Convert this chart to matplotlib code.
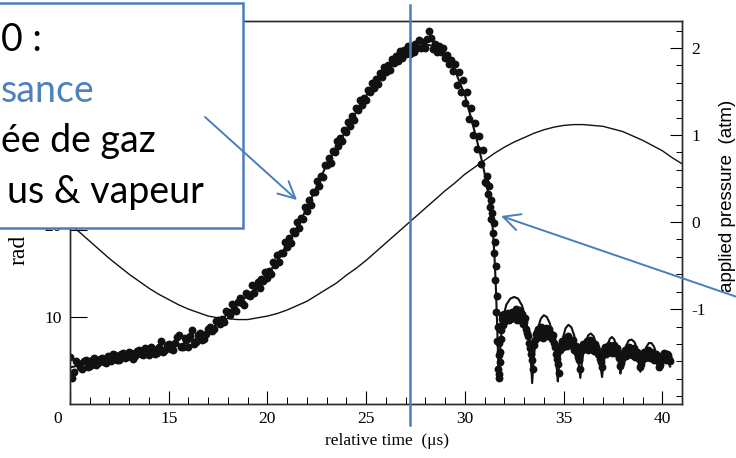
import matplotlib
matplotlib.use('Agg')
import matplotlib.pyplot as plt
from matplotlib.patches import Rectangle, FancyArrowPatch
from matplotlib.lines import Line2D
from matplotlib.ticker import MultipleLocator

early_t = [10.0, 10.1, 10.2, 10.3, 10.4, 10.6, 10.8, 11.0, 11.2, 11.4,
           11.6, 11.8, 12.0, 12.2, 12.4, 12.6, 12.8, 13.0, 13.2, 13.4,
           13.6, 13.8, 14.0, 14.2, 14.4, 14.6, 14.8, 15.0, 15.2, 15.4,
           15.6, 15.8, 16.0, 16.2, 16.4, 16.6, 16.8, 17.0, 17.2, 17.4,
           10.5, 10.7, 10.9, 11.1, 11.3, 11.5, 11.7, 11.9, 12.1, 12.3,
           12.5, 12.7, 12.9, 13.1, 13.3, 13.5, 13.7, 13.9, 14.1, 14.3,
           14.5, 14.7, 14.9, 15.1, 15.3, 15.5, 15.7, 15.9, 16.1, 16.3,
           16.5, 16.7, 16.9, 17.1, 17.3]
early_r = [5.4, 3.0, 3.7, 4.9, 4.7, 4.0, 5.0, 4.4, 5.3, 4.7,
           5.3, 4.7, 5.4, 5.8, 5.0, 5.7, 5.3, 6.0, 5.2, 6.1,
           5.7, 6.4, 5.6, 6.3, 5.9, 7.2, 6.2, 6.9, 6.2, 7.7,
           6.6, 7.6, 6.5, 8.5, 7.1, 8.2, 7.5, 8.6, 8.4, 9.5,
           4.2, 4.9, 4.3, 5.1, 4.5, 5.2, 4.8, 5.5, 4.9, 5.6,
           5.1, 5.9, 5.4, 5.9, 5.5, 6.2, 5.6, 6.0, 6.6, 5.8,
           6.5, 6.0, 6.8, 6.3, 7.0, 7.9, 6.5, 7.3, 7.8, 6.9,
           7.9, 7.3, 8.0, 8.9, 8.6]

rise_t = [17.5, 17.6, 17.7, 17.8, 17.9, 18.0, 18.1, 18.2, 18.3, 18.4,
          18.5, 18.6, 18.7, 18.8, 18.9, 19.0, 19.1, 19.2, 19.3, 19.4,
          19.5, 19.6, 19.7, 19.8, 19.9, 20.0, 20.1, 20.2, 20.3, 20.4,
          20.5, 20.6, 20.7, 20.8, 20.9, 21.0, 21.1, 21.2, 21.3, 21.4,
          21.5, 21.6, 21.7, 21.8, 21.9, 22.0, 22.1, 22.2, 22.3, 22.4,
          22.5, 22.6, 22.7, 22.8, 22.9, 23.0, 23.1, 23.2, 23.3, 23.4,
          23.5, 23.6, 23.7, 23.8, 23.9, 24.0, 24.1, 24.2, 24.3, 24.4,
          24.5, 24.6, 24.7, 24.8, 24.9, 25.0, 25.1, 25.2, 25.3, 25.4,
          25.5, 25.6, 25.7, 25.8, 25.9, 26.0, 26.1, 26.2, 26.3, 26.4,
          26.5, 26.6, 26.7, 26.8, 26.9, 27.0, 27.1, 27.2, 27.3, 27.4,
          27.5, 27.6, 27.7, 27.8, 27.9, 28.0, 28.1, 28.2, 28.3, 28.4,
          28.5, 28.6, 28.7, 28.8, 28.9, 29.0, 29.1, 29.2, 29.3, 29.4,
          29.5, 29.6, 29.7, 29.8, 29.9, 30.0, 30.1, 30.2, 30.3, 30.4,
          30.5, 30.6, 30.7, 30.8, 30.9, 31.0]
rise_r = [9.7, 9.2, 9.8, 9.4, 10.7, 10.6, 10.2, 11.5, 10.9, 10.7,
          11.7, 12.2, 11.6, 11.4, 12.7, 12.5, 12.4, 13.7, 12.7, 13.5,
          14.0, 13.3, 14.4, 14.1, 15.2, 14.5, 15.3, 14.9, 16.3, 16.0,
          17.1, 16.3, 17.4, 17.3, 18.6, 18.0, 19.1, 18.5, 19.9, 19.7,
          20.9, 20.2, 21.4, 21.2, 22.6, 22.2, 23.4, 22.9, 24.3, 24.3,
          25.6, 25.0, 26.2, 26.1, 27.5, 27.4, 28.3, 27.7, 29.1, 28.9,
          30.2, 29.6, 30.6, 30.2, 31.5, 31.3, 32.4, 31.9, 33.1, 32.6,
          34.0, 33.8, 34.9, 34.4, 35.2, 34.9, 36.1, 35.9, 36.9, 36.3,
          37.3, 36.8, 38.0, 37.6, 38.7, 38.1, 38.9, 38.4, 39.6, 39.2,
          40.0, 39.4, 40.5, 39.8, 40.7, 40.2, 41.1, 40.2, 41.1, 40.4,
          41.4, 40.9, 41.8, 40.9, 41.6, 40.9, 41.9, 42.8, 42.1, 40.8,
          41.4, 40.4, 41.1, 40.4, 40.9, 39.8, 40.1, 39.1, 39.5, 38.3,
          39.1, 36.7, 38.1, 35.8, 37.2, 34.6, 35.9, 32.7, 34.0, 30.9,
          32.3, 29.3, 30.8, 27.6, 29.2, 25.5]

collapse_t = [31.05, 31.1, 31.15, 31.2, 31.25, 31.3, 31.35, 31.4, 31.45, 31.48,
              31.5, 31.52, 31.55, 31.57, 31.6, 31.62, 31.65, 31.67, 31.7, 31.72, 31.73]
collapse_r = [25.4, 26.2, 24.1, 25.0, 22.6, 23.4, 21.3, 22.0, 19.6, 20.8,
              17.4, 18.6, 14.2, 15.8, 10.6, 12.4, 7.2, 8.8, 4.0, 5.6, 3.0]

after_t = [31.75, 31.8, 31.85, 31.9, 32.0, 32.1, 32.2, 32.3, 32.4, 32.5,
           32.6, 32.7, 32.8, 32.9, 33.0, 33.1, 33.2, 33.3, 33.4, 33.5,
           33.6, 33.7, 33.8, 33.9, 34.0, 34.1, 34.2, 34.3, 34.4, 34.5,
           34.6, 34.7, 34.8, 34.9, 35.0, 35.1, 35.2, 35.3, 35.4, 35.5,
           35.6, 35.7, 35.8, 35.9, 36.0, 36.1, 36.2, 36.3, 36.4, 36.5,
           36.6, 36.7, 36.8, 36.9, 37.0, 37.1, 37.2, 37.3, 37.4, 37.5,
           37.6, 37.7, 37.8, 37.9, 38.0, 38.1, 38.2, 38.3, 38.4, 38.5,
           38.6, 38.7, 38.8, 38.9, 39.0, 39.1, 39.2, 39.3, 39.4, 39.5,
           39.6, 39.7, 39.8, 39.9, 40.0, 40.1, 40.2, 40.3, 40.4,
           31.74, 31.76, 31.78, 31.82, 31.88, 31.95,
           32.05, 32.15, 32.25, 32.35, 32.45, 32.55, 32.65, 32.75, 32.85, 32.95,
           33.05, 33.15, 33.25, 33.35, 33.45, 33.55, 33.65, 33.75, 33.85, 33.95,
           34.05, 34.15, 34.25, 34.35, 34.45, 34.55, 34.65, 34.75, 34.85, 34.95,
           35.05, 35.15, 35.25, 35.35, 35.45, 35.55, 35.65, 35.75, 35.85, 35.95,
           36.05, 36.15, 36.25, 36.35, 36.45, 36.55, 36.65, 36.75, 36.85, 36.95,
           37.05, 37.15, 37.25, 37.35, 37.45, 37.55, 37.65, 37.75, 37.85, 37.95,
           38.05, 38.15, 38.25, 38.35, 38.45, 38.55, 38.65, 38.75, 38.85, 38.95,
           39.05, 39.15, 39.25, 39.35, 39.45, 39.55, 39.65, 39.75, 39.85, 39.95,
           40.05, 40.15, 40.25, 40.35]
after_r = [3.5, 6.0, 8.5, 9.8, 10.3, 9.6, 10.4, 9.8, 10.6, 10.0,
           10.9, 10.2, 9.7, 10.3, 9.4, 8.6, 7.8, 6.4, 5.0, 6.8,
           8.0, 8.6, 7.9, 8.5, 8.1, 8.7, 7.8, 8.2, 7.5, 7.0,
           5.8, 4.6, 6.2, 7.2, 6.9, 7.6, 7.0, 7.4, 6.8, 7.3,
           6.6, 5.9, 5.0, 6.1, 6.9, 6.5, 7.2, 6.6, 7.0, 6.4,
           6.9, 6.2, 5.6, 4.8, 5.9, 6.5, 6.0, 6.8, 6.2, 6.6,
           5.9, 6.4, 5.3, 4.7, 5.6, 6.2, 5.7, 6.5, 5.9, 6.1,
           5.4, 6.0, 5.2, 4.6, 5.4, 6.0, 5.5, 6.2, 5.3, 5.8,
           5.1, 5.7, 4.9, 4.5, 5.3, 5.9, 5.0, 5.6, 4.9,
           7.0, 9.0, 4.8, 7.5, 10.2, 9.1,
           9.5, 10.2, 9.7, 10.3, 9.9, 10.5, 9.6, 10.8, 9.9, 9.2,
           9.9, 8.2, 7.0, 5.8, 4.0, 7.4, 8.3, 7.7, 8.8, 7.6,
           8.4, 7.9, 8.6, 7.7, 7.9, 6.5, 5.2, 3.6, 6.8, 6.6,
           7.3, 6.7, 7.8, 6.9, 7.1, 6.2, 6.7, 5.4, 4.0, 6.6,
           6.3, 7.0, 6.2, 7.4, 6.7, 6.1, 6.6, 5.8, 5.2, 4.2,
           6.2, 5.8, 6.6, 6.4, 5.9, 6.8, 6.1, 5.7, 4.4, 5.2,
           6.0, 5.5, 6.3, 6.1, 5.6, 6.4, 5.8, 5.5, 4.2, 5.0,
           5.8, 5.3, 5.9, 5.6, 6.0, 5.4, 5.5, 5.2, 4.3, 5.0,
           5.6, 5.3, 5.8, 5.2]

# computed radius curve (solid line)
fit_t = [10.0, 11.0, 12.0, 13.0, 14.0, 15.0, 16.0, 16.5, 17.0, 17.5,
         18.0, 18.5, 19.0, 19.5, 20.0, 20.5, 21.0, 21.5, 22.0, 22.5,
         23.0, 23.5, 24.0, 24.5, 25.0, 25.5, 26.0, 26.5, 27.0, 27.5,
         28.0, 28.5, 29.0, 29.5, 30.0, 30.3, 30.6, 30.9, 31.1, 31.3,
         31.4, 31.5, 31.57, 31.63, 31.68, 31.72,
         31.78, 31.85, 31.95, 32.1, 32.3, 32.5, 32.7, 32.9, 33.1, 33.25,
         33.35, 33.41, 33.47, 33.55, 33.7, 33.85, 34.0, 34.15, 34.3, 34.45,
         34.58, 34.66, 34.71, 34.76, 34.85, 34.98, 35.1, 35.25, 35.4, 35.55,
         35.68, 35.78, 35.85, 35.91, 36.0, 36.12, 36.25, 36.38, 36.52, 36.66,
         36.8, 36.9, 36.95, 37.01, 37.1, 37.22, 37.35, 37.45, 37.57, 37.68,
         37.78, 37.84, 37.88, 37.94, 38.03, 38.15, 38.3, 38.45, 38.6, 38.72,
         38.82, 38.89, 38.95, 39.05, 39.18, 39.32, 39.45, 39.58, 39.7, 39.8,
         39.9, 39.97, 40.1, 40.25, 40.4]
fit_r = [4.2, 4.7, 5.2, 5.6, 6.0, 6.5, 7.1, 7.6, 8.3, 9.3,
         10.4, 11.4, 12.5, 13.5, 14.9, 16.4, 18.4, 20.3, 22.5, 25.0,
         27.5, 29.6, 31.5, 33.6, 35.4, 37.0, 38.4, 39.6, 40.4, 41.0,
         41.3, 41.1, 40.2, 38.3, 35.5, 33.0, 30.4, 27.6, 25.4, 22.4,
         20.6, 17.0, 13.5, 9.5, 5.8, 2.8,
         6.0, 8.2, 10.0, 11.4, 12.1, 12.3, 12.1, 11.3, 9.7, 7.4,
         4.8, 2.4, 4.6, 6.6, 8.7, 9.8, 10.2, 10.0, 9.3, 7.9,
         5.9, 4.0, 2.6, 4.2, 6.0, 7.7, 8.7, 9.1, 8.8, 7.8,
         6.1, 4.3, 3.0, 4.4, 5.8, 7.1, 7.9, 8.1, 7.8, 6.9,
         5.4, 3.9, 3.1, 4.3, 5.6, 6.8, 7.5, 7.7, 7.4, 6.6,
         5.3, 4.3, 3.5, 4.5, 5.6, 6.6, 7.3, 7.4, 7.1, 6.3,
         5.0, 3.7, 4.6, 5.6, 6.5, 7.0, 7.0, 6.6, 5.8, 4.8,
         3.9, 4.6, 5.2, 5.0, 4.3]

# applied acoustic pressure (atm), right axis
drive_t = [10.0, 10.5, 11.0, 11.5, 12.0, 12.5, 13.0, 13.5, 14.0, 14.5,
           15.0, 15.5, 16.0, 16.5, 17.0, 17.5, 18.0, 18.5, 19.0, 19.5,
           20.0, 20.5, 21.0, 21.5, 22.0, 22.5, 23.0, 23.5, 24.0, 24.5,
           25.0, 25.5, 26.0, 26.5, 27.0, 27.5, 28.0, 28.5, 29.0, 29.5,
           30.0, 30.5, 31.0, 31.5, 32.0, 32.5, 33.0, 33.5, 34.0, 34.5,
           35.0, 35.5, 36.0, 36.5, 37.0, 37.5, 38.0, 38.5, 39.0, 39.5,
           40.0, 40.5, 41.0]
drive_p = [-0.02, -0.12, -0.22, -0.32, -0.42, -0.51, -0.60, -0.68, -0.76, -0.83,
           -0.89, -0.95, -1.00, -1.04, -1.08, -1.10, -1.11, -1.12, -1.12, -1.10,
           -1.08, -1.05, -1.01, -0.96, -0.91, -0.84, -0.77, -0.70, -0.61, -0.53,
           -0.44, -0.34, -0.24, -0.14, -0.04, 0.06, 0.16, 0.26, 0.36, 0.45,
           0.55, 0.63, 0.71, 0.79, 0.86, 0.92, 0.97, 1.02, 1.06, 1.09,
           1.11, 1.12, 1.12, 1.11, 1.10, 1.07, 1.04, 0.99, 0.94, 0.88,
           0.82, 0.74, 0.67]

x_ticks = [10, 15, 20, 25, 30, 35, 40]
x_labels = ['', '15', '20', '25', '30', '35', '40']
r_ticks = [10, 20, 30, 40]
p_ticks = [-1, 0, 1, 2]
p_labels = ['-1', '0', '1', '2']

box_lines = ['0 :', 'sance', 'ée de gaz', 'us & vapeur']
box_colors = ['black', '#4f81bd', 'black', 'black']

serif = 'Liberation Serif'
blue = '#4a7ebb'
ink = '#111111'

W, H = 736, 458
def fx(px):
    return px / W
def fy(py):
    return 1 - py / H

fig = plt.figure(figsize=(W / 100, H / 100), dpi=100)
ax = fig.add_axes([fx(70), fy(404), (682 - 70) / W, (404 - 21) / H])

for tt, rr in [(early_t, early_r), (rise_t, rise_r), (collapse_t, collapse_r), (after_t, after_r)]:
    ax.scatter(tt, rr, s=32, c=ink, linewidths=0, zorder=2)
ax.plot(fit_t, fit_r, color=ink, lw=1.5, zorder=3)

ax.set_xlim(10, 41)
ax.set_ylim(0, 44)
ax.set_xticks(x_ticks)
ax.set_xticklabels(x_labels, fontfamily=serif, fontsize=12.5)
ax.xaxis.set_minor_locator(MultipleLocator(1))
ax.set_yticks(r_ticks)
ax.set_yticklabels(['10', '', '', ''], fontfamily=serif, fontsize=12.5)
ax.tick_params(axis='x', which='major', direction='in', length=9.5, width=0.8, pad=5, top=False)
ax.tick_params(axis='x', which='minor', direction='in', length=5, width=0.7, top=False)
ax.tick_params(axis='y', which='major', direction='in', length=12, width=0.8, pad=6, right=False)
ax.annotate('0', xy=(10, 0), xycoords=('data', 'axes fraction'), xytext=(-9, -5),
            textcoords='offset points', ha='center', va='top', fontfamily=serif, fontsize=12.5)
# the "20" label sits mostly under the text box on the slide
ax.annotate('20', xy=(10, 20), xycoords='data', xytext=(-6, 2),
            textcoords='offset points', ha='right', va='center', fontfamily=serif, fontsize=12.5)
for s in ax.spines.values():
    s.set_color('#2a2a2a')
    s.set_linewidth(1.0)

ax2 = ax.twinx()
ax2.plot(drive_t, drive_p, color=ink, lw=1.0)
ax2.set_ylim(-2.09, 2.31)
ax2.set_yticks(p_ticks)
ax2.set_yticklabels(p_labels, fontfamily=serif, fontsize=12.5)
ax2.yaxis.set_minor_locator(MultipleLocator(0.2))
ax2.tick_params(axis='y', which='major', direction='in', length=9, width=0.8, pad=7)
ax2.tick_params(axis='y', which='minor', direction='in', length=4.5, width=0.7)
for s in ax2.spines.values():
    s.set_color('#2a2a2a')
    s.set_linewidth(1.0)

fig.text(fx(387), fy(441), 'relative time  (\u03bcs)', ha='center', va='center',
         fontfamily=serif, fontsize=12.5)
fig.text(fx(727), fy(196), 'applied pressure  (atm)', rotation=90, ha='center', va='center',
         fontfamily='Liberation Sans', fontsize=13.5)
fig.text(fx(19), fy(265), 'rad', rotation=90, ha='center', va='bottom',
         fontfamily=serif, fontsize=17, zorder=1)

# slide overlay: text box, arrows and the vertical marker
fig.add_artist(Rectangle((fx(-10), fy(228)), (243 + 10) / W, (228 - 3) / H,
                         transform=fig.transFigure, facecolor='white', edgecolor=blue,
                         linewidth=1.8, zorder=10))
for i, (txt, col) in enumerate(zip(box_lines, box_colors)):
    x0 = 7 if i == 3 else 1
    fig.text(fx(x0), fy(51 + 50.5 * i), txt, ha='left', va='baseline', color=col,
             fontfamily='Lato', fontsize=27, zorder=11)

fig.add_artist(Line2D([fx(410), fx(410)], [fy(5), fy(425)], transform=fig.transFigure,
                      color=blue, lw=1.8, zorder=12))
fig.add_artist(FancyArrowPatch((fx(205), fy(117)), (fx(297), fy(200)), transform=fig.transFigure,
                               arrowstyle='->', mutation_scale=30, color=blue, lw=1.4,
                               shrinkA=0, shrinkB=0, zorder=12))
fig.add_artist(FancyArrowPatch((fx(740), fy(298)), (fx(501), fy(216)), transform=fig.transFigure,
                               arrowstyle='->', mutation_scale=30, color=blue, lw=1.4,
                               shrinkA=0, shrinkB=0, zorder=12))

fig.savefig('out.png', dpi=100)
